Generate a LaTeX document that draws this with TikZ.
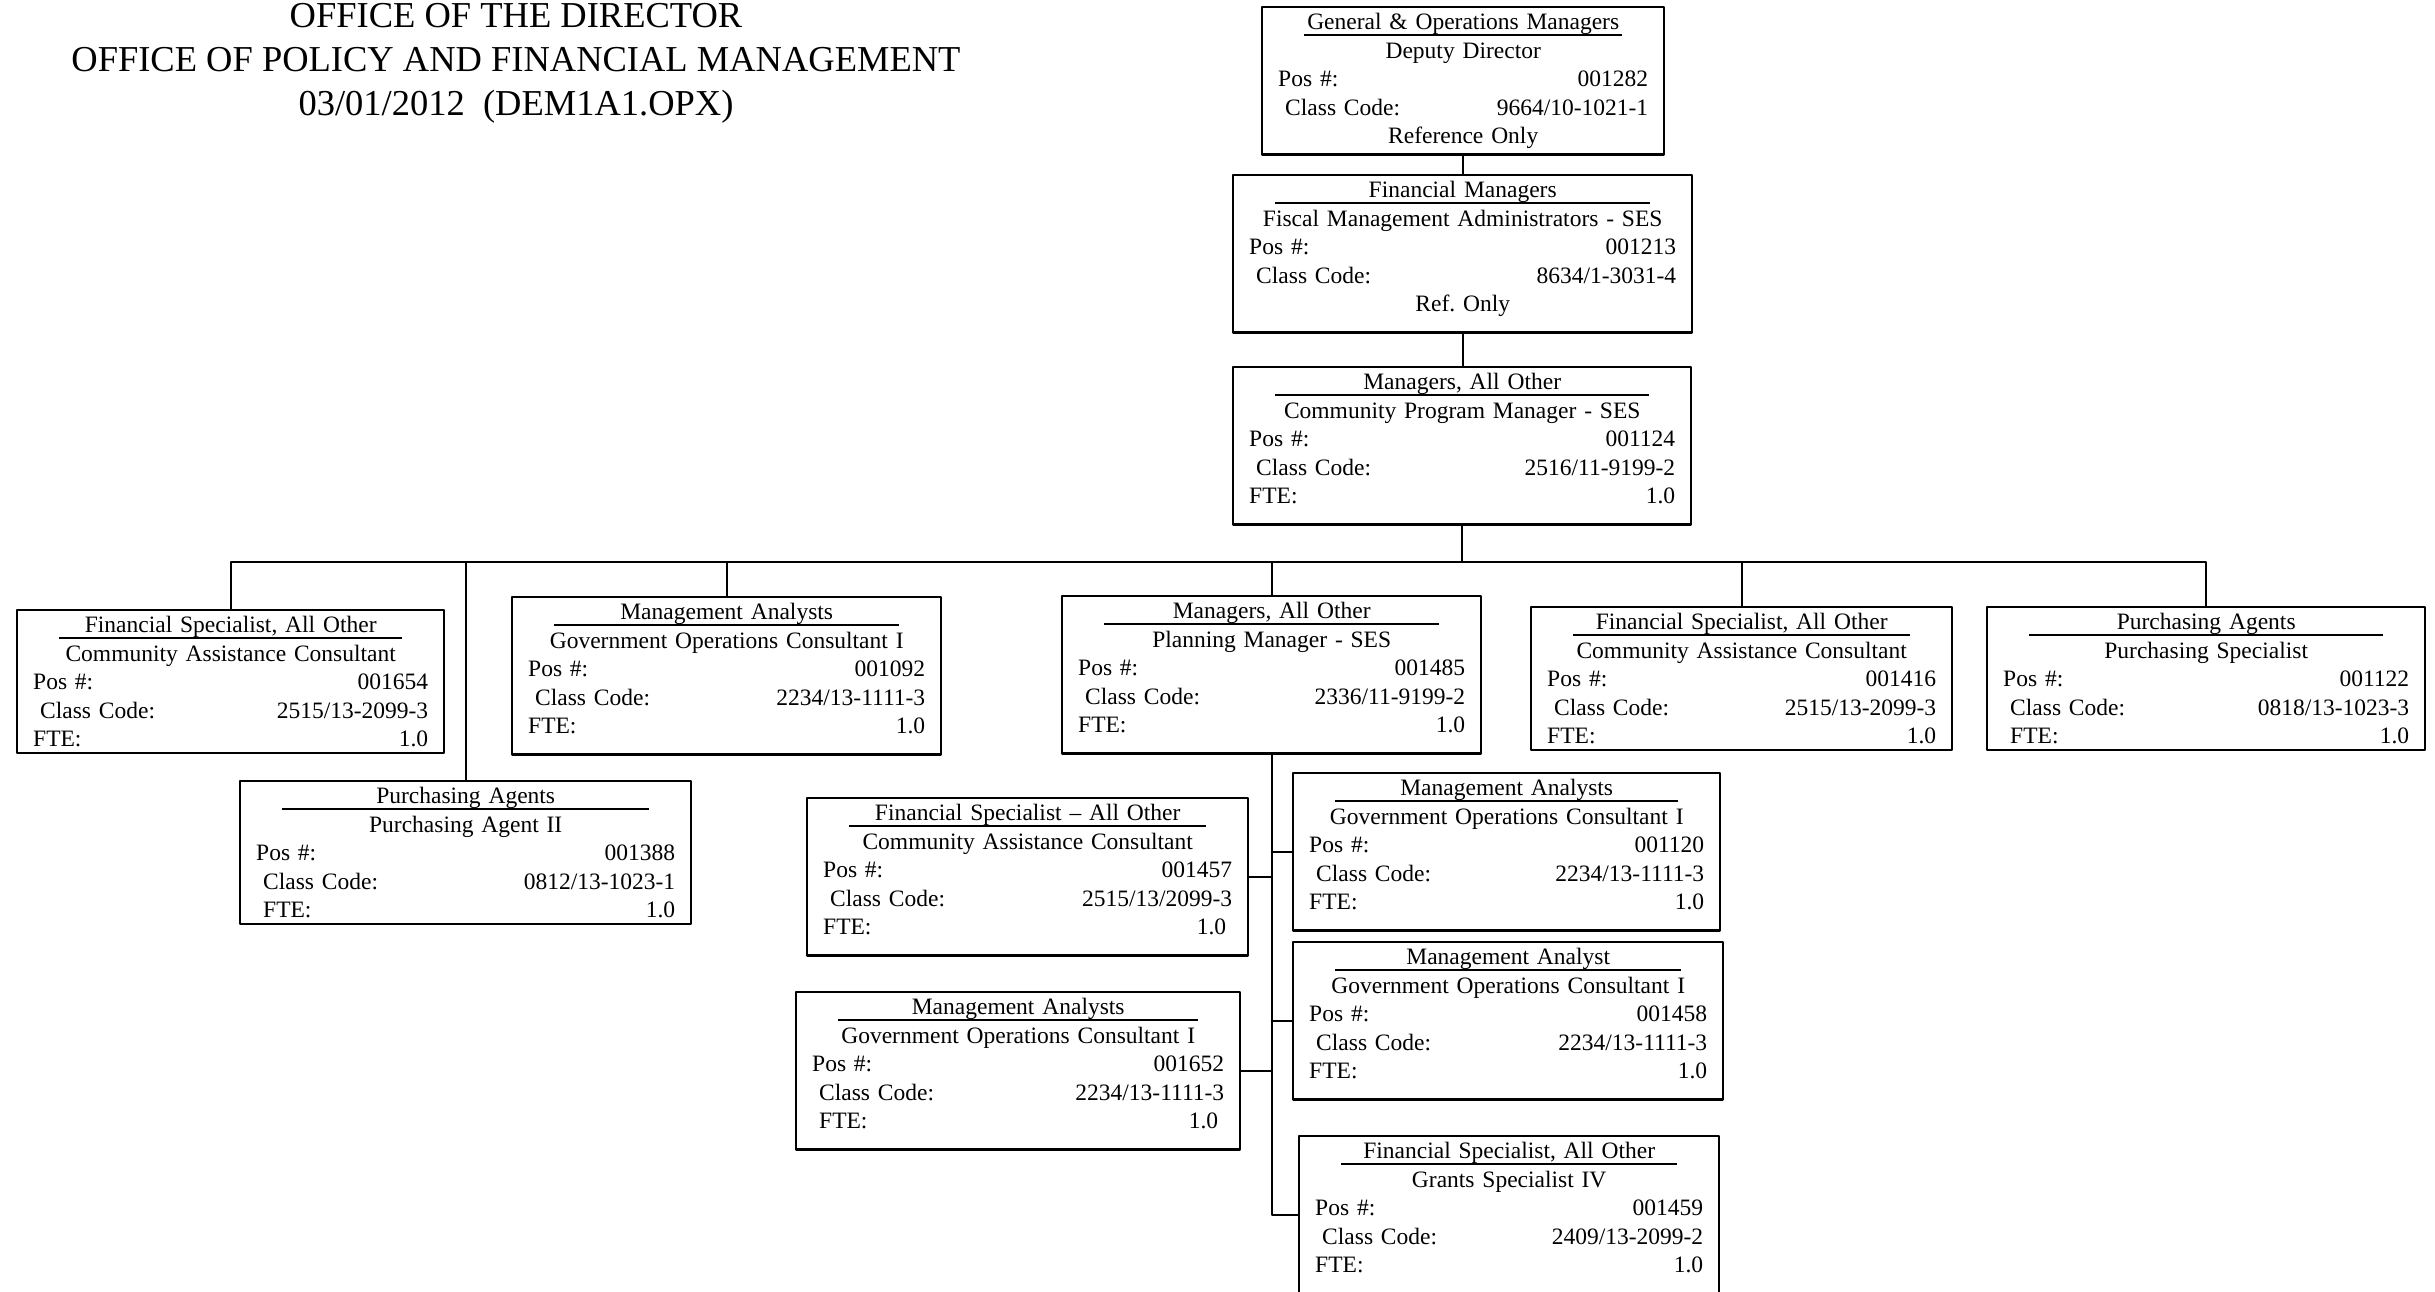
\documentclass[tikz,border=0pt]{standalone}
\usepackage{fontspec}
\setmainfont{Liberation Serif}
\tikzset{every path/.style={line cap=round, line join=round}}

% centred row and a rule under the class title
\newcommand{\midrow}[1]{\hfill#1\hfill\null}
\newcommand{\lowstrut}{\rule[-15pt]{0pt}{15pt}}
\newcommand{\jobinfo}[5]{%
  \hfill\makebox[0pt]{\rule[-6pt]{\dimexpr\hsize-52pt\relax}{2pt}}\makebox[0pt]{#1}\hfill\null\\
  \midrow{#2}\\
  Pos \#:\hfill#3\\
  \hspace*{7pt}Class Code:\hfill#4\hspace*{6pt}\\
  #5}

\begin{document}
\begin{tikzpicture}[x=1pt, y=-1pt,
    jobbox/.style={draw, line width=2.4pt, anchor=north west, inner xsep=16pt, inner ysep=6pt,
        align=left, font={\fontsize{23.5}{28.5}\selectfont}, text width=#1pt-32pt},
    link/.style={draw, line width=2pt}]
    \useasboundingbox (0,0) rectangle (2435,1292);

    \node [font={\fontsize{36.5}{44}\selectfont}, align=center, inner sep=0pt] (hdr) at (516,63) {
        OFFICE OF THE DIRECTOR\\
        OFFICE OF POLICY AND FINANCIAL MANAGEMENT\\
        03/01/2012\ \ (DEM1A1.OPX)
    };

    % chain of command
    \node [jobbox=402] (dep) at (1261,6) {\jobinfo{General \& Operations Managers}{Deputy Director}{001282}{9664/10-1021-1}{\midrow{Reference Only}}};
    \node [jobbox=459] (fin) at (1232,174) {\jobinfo{Financial Managers}{Fiscal Management Administrators - SES}{001213}{8634/1-3031-4}{\midrow{Ref.\ Only}\lowstrut}};
    \node [jobbox=458] (mgr) at (1232,366) {\jobinfo{Managers, All Other}{Community Program Manager - SES}{001124}{2516/11-9199-2}{FTE:\hfill 1.0\lowstrut}};

    % direct reports
    \node [jobbox=427] (fsa) at (16,609) {\jobinfo{Financial Specialist, All Other}{Community Assistance Consultant}{001654}{2515/13-2099-3}{FTE:\hfill 1.0}};
    \node [jobbox=451] (pa2) at (239,780) {\jobinfo{Purchasing Agents}{Purchasing Agent II}{001388}{0812/13-1023-1}{\hspace*{7pt}FTE:\hfill 1.0\hspace*{6pt}}};
    \node [jobbox=429] (ma1) at (511,596) {\jobinfo{Management Analysts}{Government Operations Consultant I}{001092}{2234/13-1111-3}{FTE:\hfill 1.0\lowstrut}};
    \node [jobbox=419] (plan) at (1061,595) {\jobinfo{Managers, All Other}{Planning Manager - SES}{001485}{2336/11-9199-2}{FTE:\hfill 1.0\lowstrut}};
    \node [jobbox=421] (fsb) at (1530,606) {\jobinfo{Financial Specialist, All Other}{Community Assistance Consultant}{001416}{2515/13-2099-3}{FTE:\hfill 1.0}};
    \node [jobbox=438] (pas) at (1986,606) {\jobinfo{Purchasing Agents}{Purchasing Specialist}{001122}{0818/13-1023-3}{\hspace*{7pt}FTE:\hfill 1.0\hspace*{6pt}}};

    % planning section
    \node [jobbox=441] (fsc) at (806,797) {\jobinfo{Financial Specialist -- All Other}{Community Assistance Consultant}{001457}{2515/13/2099-3}{FTE:\hfill 1.0\hspace*{6pt}\lowstrut}};
    \node [jobbox=427] (ma2) at (1292,772) {\jobinfo{Management Analysts}{Government Operations Consultant I}{001120}{2234/13-1111-3}{FTE:\hfill 1.0\lowstrut}};
    \node [jobbox=430] (ma3) at (1292,941) {\jobinfo{Management Analyst}{Government Operations Consultant I}{001458}{2234/13-1111-3}{FTE:\hfill 1.0\lowstrut}};
    \node [jobbox=444] (ma4) at (795,991) {\jobinfo{Management Analysts}{Government Operations Consultant I}{001652}{2234/13-1111-3}{\hspace*{7pt}FTE:\hfill 1.0\hspace*{6pt}\lowstrut}};
    \node [jobbox=420] (gra) at (1298,1135) {\jobinfo{Financial Specialist, All Other}{Grants Specialist IV}{001459}{2409/13-2099-2}{FTE:\hfill 1.0\lowstrut}};

    \draw [link] (dep.south) -- (dep.south |- fin.north);
    \draw [link] (fin.south) -- (fin.south |- mgr.north);
    \path (mgr.south) ++(0,36) coordinate (bus);
    \draw [link] (mgr.south) -- (bus);
    \foreach \kid in {fsa,pa2,ma1,plan,fsb,pas}
        \draw [link] (bus) -| (\kid.north);

    \draw [link] (plan.south) |- (gra.west);
    \foreach \kid/\side in {fsc/east,ma4/east,ma2/west,ma3/west}
        \draw [link] (plan.south |- \kid.\side) -- (\kid.\side);
\end{tikzpicture}
\end{document}
